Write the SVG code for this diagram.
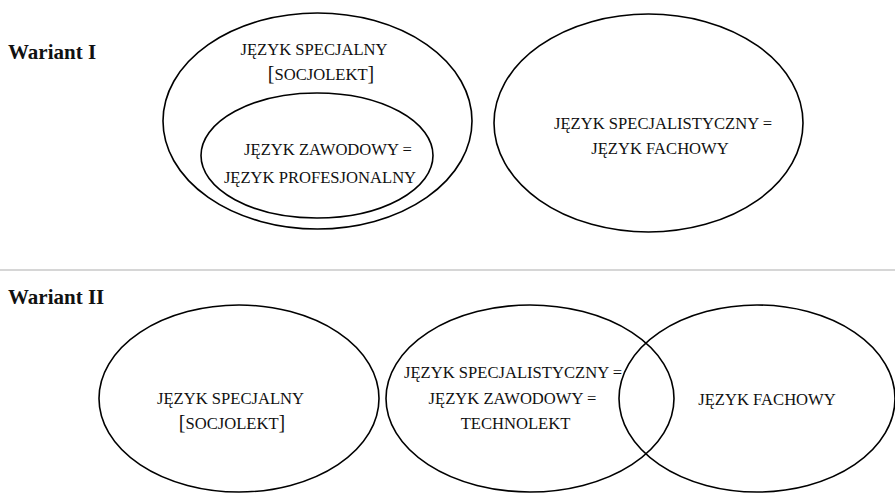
<svg xmlns="http://www.w3.org/2000/svg" width="895" height="493" viewBox="0 0 895 493">
<style>
.e{fill:none;stroke:#000;stroke-width:1.6}
.t{font-family:'Liberation Serif','Times New Roman','DejaVu Serif',serif;font-size:16.6px;fill:#111;text-anchor:middle}
.h{font-family:'Liberation Serif','Times New Roman','DejaVu Serif',serif;font-size:21px;font-weight:bold;fill:#111}
.b{font-size:20px}
</style>
<rect width="895" height="493" fill="#fff"/>
<text class="h" x="8" y="59">Wariant I</text>
<text class="h" x="8" y="304">Wariant II</text>
<line x1="0" y1="270" x2="895" y2="270" stroke="#c8c8c8" stroke-width="1.5"/>
<g id="v1-specjalny">
<ellipse class="e" cx="317.5" cy="121" rx="154.5" ry="108"/>
<text class="t" x="314" y="55">JĘZYK SPECJALNY</text>
<text class="t" x="321" y="80"><tspan class="b">[</tspan>SOCJOLEKT<tspan class="b">]</tspan></text>
</g>
<g id="v1-zawodowy">
<ellipse class="e" cx="317" cy="155.5" rx="116" ry="62.5"/>
<text class="t" x="328" y="155">JĘZYK ZAWODOWY =</text>
<text class="t" x="320" y="183">JĘZYK PROFESJONALNY</text>
</g>
<g id="v1-specjalistyczny">
<ellipse class="e" cx="648.5" cy="123" rx="154.5" ry="109"/>
<text class="t" x="663" y="129">JĘZYK SPECJALISTYCZNY =</text>
<text class="t" x="660" y="154">JĘZYK FACHOWY</text>
</g>
<g id="v2-specjalny">
<ellipse class="e" cx="239" cy="398.5" rx="140" ry="93.5"/>
<text class="t" x="230.5" y="404">JĘZYK SPECJALNY</text>
<text class="t" x="232" y="429"><tspan class="b">[</tspan>SOCJOLEKT<tspan class="b">]</tspan></text>
</g>
<g id="v2-specjalistyczny">
<ellipse class="e" cx="530" cy="398.5" rx="144" ry="93.5"/>
<text class="t" x="513" y="378">JĘZYK SPECJALISTYCZNY =</text>
<text class="t" x="512.5" y="404">JĘZYK ZAWODOWY =</text>
<text class="t" x="515.5" y="429">TECHNOLEKT</text>
</g>
<g id="v2-fachowy">
<ellipse class="e" cx="757" cy="398.5" rx="138" ry="93.5"/>
<text class="t" x="767" y="405">JĘZYK FACHOWY</text>
</g>
<g id="connectors"/>
</svg>
